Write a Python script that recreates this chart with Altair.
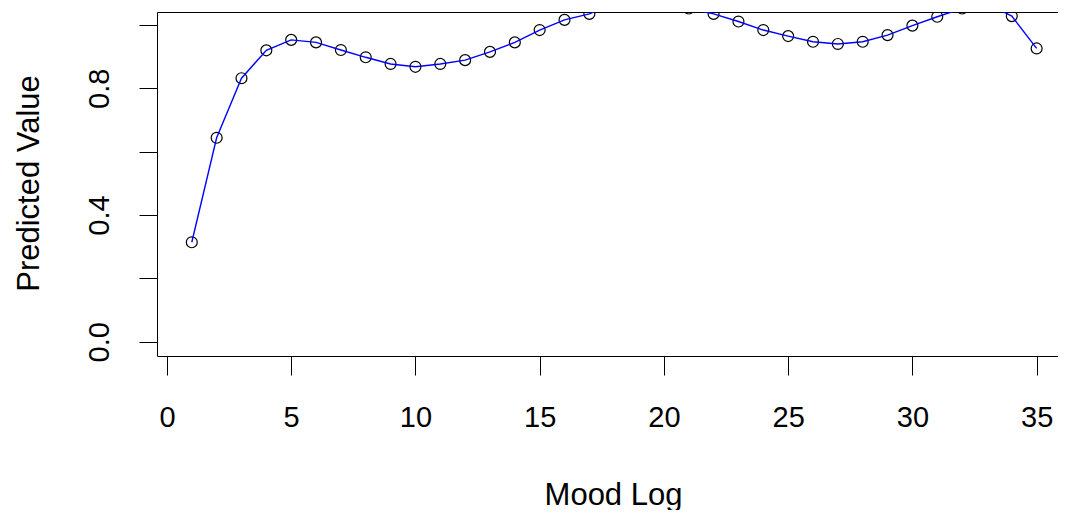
import altair as alt
import pandas as pd

mood_log = list(range(1, 36))
predicted = [0.314, 0.644, 0.832, 0.920, 0.953, 0.945, 0.921, 0.898, 0.877, 0.868,
             0.877, 0.889, 0.915, 0.945, 0.984, 1.016, 1.035, 1.070, 1.085, 1.080,
             1.052, 1.035, 1.011, 0.984, 0.965, 0.947, 0.940, 0.947, 0.968, 0.998,
             1.026, 1.052, 1.068, 1.028, 0.926]
x_ticks = [0, 5, 10, 15, 20, 25, 30, 35]
y_ticks = [0.0, 0.2, 0.4, 0.6, 0.8, 1.0]
y_labelled = ["0.0", "0.4", "0.8"]

df = pd.DataFrame({"x": mood_log, "y": predicted})

FONT = "Liberation Sans"
x_scale = alt.Scale(domain=[-0.40, 35.86], nice=False, zero=False)
y_scale = alt.Scale(domain=[-0.045, 1.041], nice=False, zero=False)

x_bottom = alt.X("x:Q", scale=x_scale,
                 axis=alt.Axis(values=x_ticks, domain=True, domainColor="black",
                               domainWidth=1, grid=False,
                               tickSize=19, tickColor="black", tickWidth=1,
                               labelFont=FONT, labelFontSize=29, labelColor="black",
                               labelPadding=28, labelOverlap=False,
                               title="Mood Log", titleFont=FONT, titleFontSize=31,
                               titleFontWeight="normal", titleColor="black",
                               titleX=456, titleY=148, titleAlign="center",
                               titleBaseline="alphabetic"))
x_top = alt.X("x:Q", scale=x_scale,
              axis=alt.Axis(orient="top", domain=True, domainColor="black",
                            domainWidth=1, grid=False, ticks=False, labels=False,
                            title=None))
y_enc = alt.Y("y:Q", scale=y_scale,
              axis=alt.Axis(values=y_ticks, domain=True, domainColor="black",
                            domainWidth=1, grid=False,
                            tickSize=18, tickColor="black", tickWidth=1,
                            format=".1f",
                            labelExpr="indexof(" + str(y_labelled) + ", datum.label) >= 0 ? datum.label : ''",
                            labelFont=FONT, labelFontSize=29, labelColor="black",
                            labelAngle=270, labelAlign="center", labelBaseline="alphabetic",
                            labelPadding=31, labelOverlap=False,
                            title="Predicted Value", titleFont=FONT, titleFontSize=31,
                            titleFontWeight="normal", titleColor="black",
                            titleAngle=270, titleX=-119, titleY=171, titleAlign="center",
                            titleBaseline="alphabetic"))

base = alt.Chart(df)
points = base.mark_point(shape="circle", filled=False, stroke="black",
                         strokeWidth=1.2, size=120, clip=True, opacity=1).encode(x=x_top, y=y_enc)
line = base.mark_line(color="#0000FF", strokeWidth=1.4, clip=True).encode(x=x_bottom, y=y_enc)

chart = alt.layer(points, line).resolve_axis(x="independent").properties(
    width=901, height=344,
    autosize=alt.AutoSizeParams(type="none"),
    padding={"left": 149, "top": 4, "right": 0, "bottom": 154},
    background="white",
).configure_view(strokeWidth=0)

chart.save("out.html", embed_options={"renderer": "svg", "actions": False})
